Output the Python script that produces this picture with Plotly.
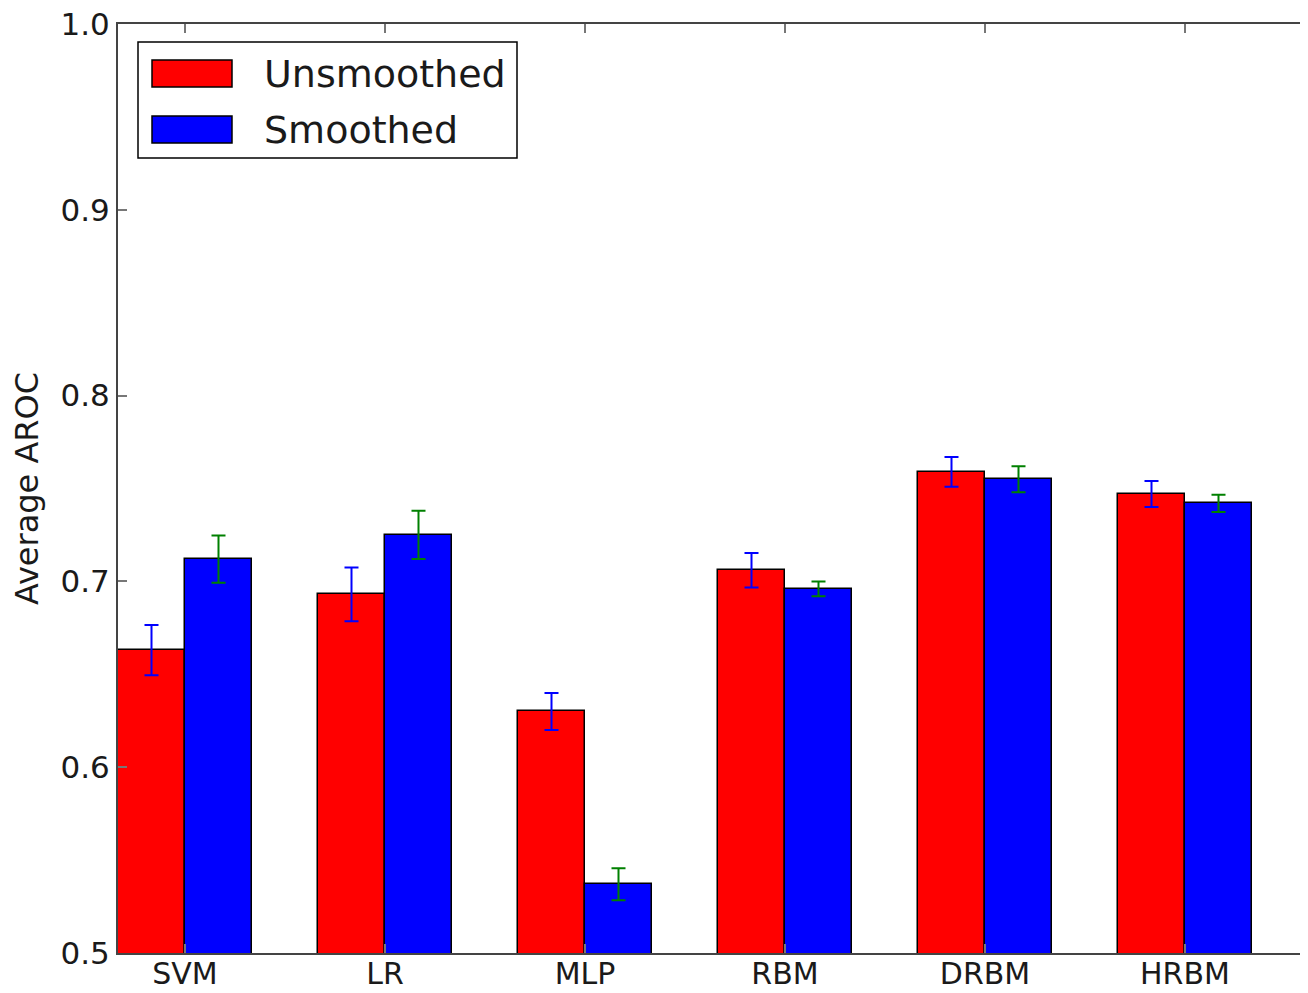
import plotly.graph_objects as go

categories = ["SVM", "LR", "MLP", "RBM", "DRBM", "HRBM"]
series_names = ["Unsmoothed", "Smoothed"]
unsmoothed = [0.663, 0.693, 0.630, 0.706, 0.759, 0.747]
unsmoothed_err = [0.0135, 0.0145, 0.010, 0.0093, 0.008, 0.007]
smoothed = [0.712, 0.725, 0.537, 0.696, 0.755, 0.742]
smoothed_err = [0.0127, 0.013, 0.0086, 0.004, 0.007, 0.0047]
y_ticks = [0.5, 0.6, 0.7, 0.8, 0.9, 1.0]

OFF = 8  # page body margin
W, H = 1308 - OFF, 993 - OFF
L, T, B, R = 118 - OFF, 24 - OFF, 40, 0
bw = 0.335
xs = list(range(len(categories)))
FONT = "DejaVu Sans"
TXT = "#1a1a1a"

fig = go.Figure()
fig.add_trace(go.Bar(
    x=xs, y=unsmoothed, width=bw, offset=-bw, name=series_names[0],
    marker=dict(color="#ff0000", line=dict(color="black", width=1.5)),
    error_y=dict(type="data", array=unsmoothed_err, color="#0000ff", thickness=2, width=7),
    showlegend=False,
))
fig.add_trace(go.Bar(
    x=xs, y=smoothed, width=bw, offset=0, name=series_names[1],
    marker=dict(color="#0000ff", line=dict(color="black", width=1.5)),
    error_y=dict(type="data", array=smoothed_err, color="#008000", thickness=2, width=7),
    showlegend=False,
))

pw = W - L - R
ph = H - T - B

# reference pixel coordinates -> paper coordinates
def px_x(p):
    return (p - OFF - L) / pw

def px_y(p):
    return (H - B - (p - OFF)) / ph

shapes = [
    dict(type="rect", xref="paper", yref="paper", x0=px_x(138), x1=px_x(517), y0=px_y(158), y1=px_y(42),
         line=dict(color="black", width=1.5), fillcolor="white", layer="above"),
    dict(type="rect", xref="paper", yref="paper", x0=px_x(152), x1=px_x(232), y0=px_y(87), y1=px_y(60),
         line=dict(color="black", width=1.5), fillcolor="#ff0000", layer="above"),
    dict(type="rect", xref="paper", yref="paper", x0=px_x(152), x1=px_x(232), y0=px_y(143), y1=px_y(116),
         line=dict(color="black", width=1.5), fillcolor="#0000ff", layer="above"),
]
annotations = [
    dict(xref="paper", yref="paper", x=px_x(262), y=px_y(74), text=series_names[0], showarrow=False,
         xanchor="left", yanchor="middle", font=dict(family=FONT, size=38, color=TXT)),
    dict(xref="paper", yref="paper", x=px_x(262), y=px_y(130), text=series_names[1], showarrow=False,
         xanchor="left", yanchor="middle", font=dict(family=FONT, size=38, color=TXT)),
]

fig.update_layout(
    width=W, height=H,
    margin=dict(l=L, r=R, t=T, b=B, pad=0, autoexpand=False),
    paper_bgcolor="white", plot_bgcolor="white",
    bargap=0,
    shapes=shapes, annotations=annotations,
    font=dict(family=FONT, color=TXT),
)
fig.update_xaxes(
    range=[-bw, 5 + (1308 - 1185) / 200.0],
    tickvals=xs, ticktext=categories,
    showgrid=False, zeroline=False, automargin=False,
    showline=True, linecolor="#444", linewidth=2, mirror="ticks",
    ticks="inside", ticklen=9, tickcolor="#777", tickwidth=1.5,
    tickfont=dict(family=FONT, size=30, color=TXT),
    ticklabeloverflow="allow", ticklabelstandoff=-7,
)
fig.update_yaxes(
    range=[0.5, 1.0],
    tickvals=y_ticks, ticktext=[f"{v:.1f}" for v in y_ticks],
    showgrid=False, zeroline=False, automargin=False,
    showline=True, linecolor="#444", linewidth=2, mirror=False,
    ticks="inside", ticklen=9, tickcolor="#777", tickwidth=1.5,
    tickfont=dict(family=FONT, size=31, color=TXT),
    ticklabeloverflow="allow",
    title=dict(text="Average AROC", font=dict(family=FONT, size=32, color=TXT), standoff=14),
)

fig.write_html("out.html")
